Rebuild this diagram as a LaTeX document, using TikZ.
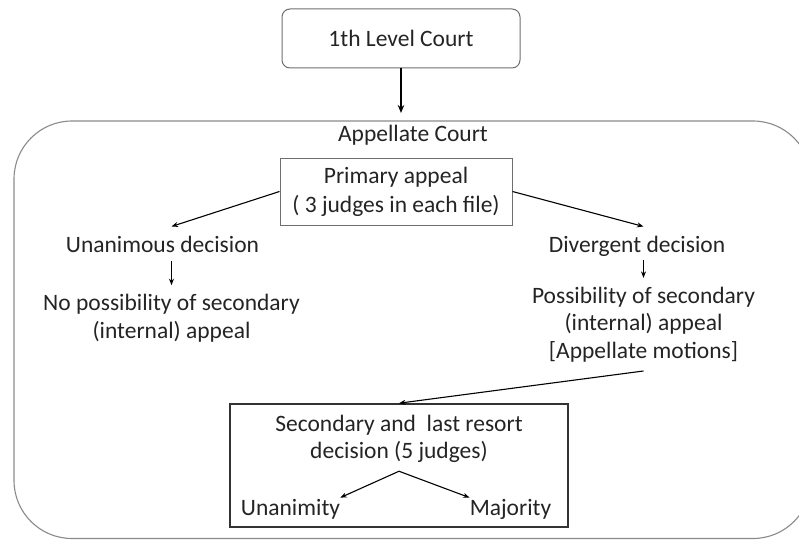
\documentclass[tikz,border=0pt]{standalone}
\usepackage{fontspec}
\setmainfont{Carlito}
\usetikzlibrary{arrows.meta}
\definecolor{ink}{HTML}{242424}
\definecolor{boxline}{HTML}{6E6E6E}
\definecolor{courtline}{HTML}{8A8A8A}
\begin{document}
\begin{tikzpicture}[x=1pt,y=-1pt,
  lbl/.style={font=\fontsize{23.5}{27.3}\selectfont, text=ink, inner xsep=0pt, inner ysep=9pt, align=center, anchor=base},
  tightlbl/.style={lbl, inner ysep=1pt},
  courtbox/.style={draw=boxline, line width=1pt, rounded corners=8pt, minimum width=238pt, minimum height=59pt,
    font=\fontsize{23.5}{27.3}\selectfont, text=ink, inner sep=0pt},
  appealbox/.style={draw=boxline, line width=1pt, minimum width=232pt, minimum height=67pt,
    font=\fontsize{23.5}{27.3}\selectfont, text=ink, inner sep=0pt, align=center},
  finalbox/.style={draw=black!80, line width=1.6pt, minimum width=338pt, minimum height=123pt, inner sep=0pt},
  container/.style={draw=courtline, line width=1.1pt, rounded corners=58pt},
  arr/.style={-{Stealth[length=6.5pt,width=5pt]}, line width=1.1pt, black},
  bigarr/.style={-{Stealth[length=8pt,width=6.5pt]}, line width=1.8pt, black}
]
\useasboundingbox (0,0) rectangle (799,540);
\clip (0,0) rectangle (799,540);

% first instance court
\node[courtbox] (lvl) at (401,38.5) {1th Level Court};

% appellate court container
\draw[container] (14,121) rectangle (811,538.5);
\coordinate (appTop) at (401,121);
\node[lbl] (app) at (413,141.5) {Appellate Court};
\draw[bigarr, shorten >=8pt] (lvl.south) -- (appTop);

% primary appeal
\node[appealbox] (prim) at (396,191.5) {Primary appeal\\[1.7pt]( 3 judges in each file)};

% left branch (multi-line labels sit on the baseline of their last line)
\node[lbl] (unan) at (162.5,252) {Unanimous decision};
\node[lbl] (nopos) at (171.5,338) {No possibility of secondary\\(internal) appeal};
\draw[arr] (prim.west) -- (unan.north -| nopos);
\draw[arr] (unan.south -| nopos) -- (nopos.north);

% right branch
\node[lbl] (div) at (637,252) {Divergent decision};
\node[lbl] (poss) at (643.5,358) {Possibility of secondary\\(internal) appeal\\{}[Appellate motions]};
\draw[arr] (prim.east) -- (div.north -| poss);
\draw[arr, shorten <=-5pt] (div.south -| poss) -- (poss.north);

% secondary appeal
\node[finalbox] (final) at (399,465.5) {};
\draw[arr] (poss.south) -- (final.north);
\node[lbl] (sec) at (399,458) {Secondary and~ last resort\\[-0.8pt]decision (5 judges)};
\node[tightlbl] (unam) at (290.5,515) {Unanimity};
\node[tightlbl] (maj) at (510.5,515) {Majority};
\draw[arr] (sec.south) -- (unam.north east);
\draw[arr] (sec.south) -- (maj.north west);
\end{tikzpicture}
\end{document}
